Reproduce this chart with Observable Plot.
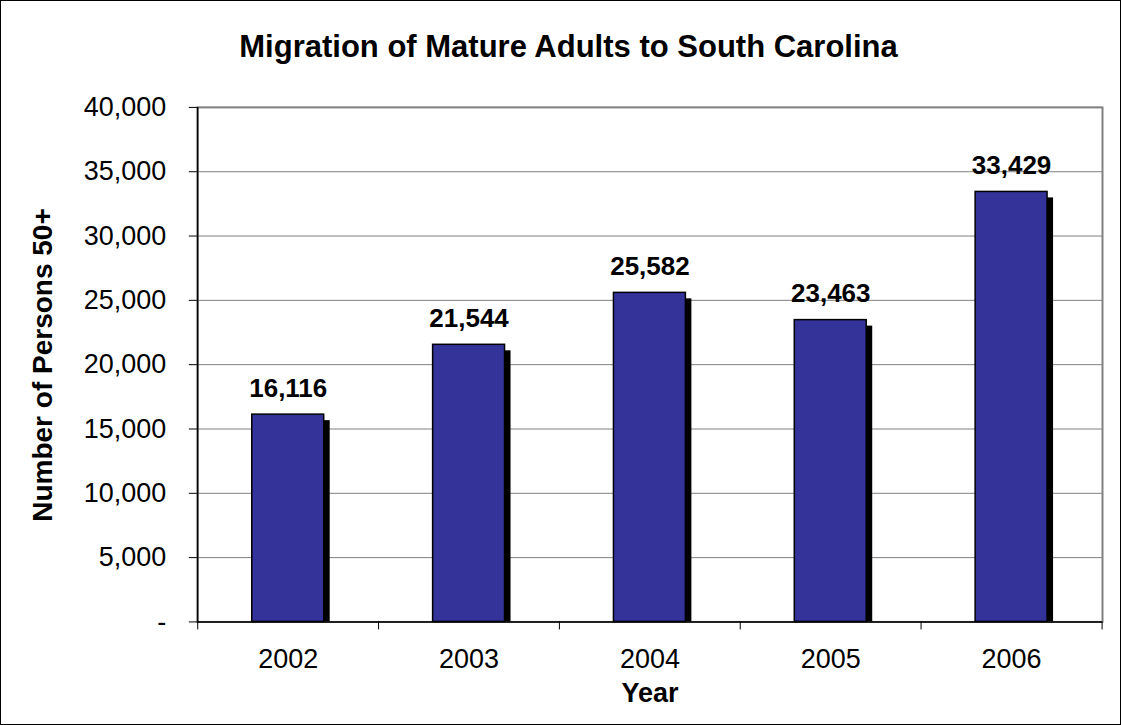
<!DOCTYPE html>
<html>
<head>
<meta charset="utf-8">
<script src="https://cdn.jsdelivr.net/npm/d3@7"></script>
<script src="https://cdn.jsdelivr.net/npm/@observablehq/plot@0.6"></script>
<style>
  html, body { margin: 0; padding: 0; background: #fff; }
  #wrap { position: relative; width: 1121px; height: 725px; box-sizing: border-box; border: 1px solid #000; overflow: hidden; }
  #title { position: absolute; left: 14px; top: 28px; width: 1107px; text-align: center;
    font-family: "Liberation Sans", Arial, sans-serif; font-weight: bold; font-size: 31px; color: #000; }
  #ylabel { position: absolute; left: 42px; top: 364px; width: 0; height: 0; }
  #ylabel span { position: absolute; left: 0; top: 0; transform: translate(-50%, -50%) rotate(-90deg);
    white-space: nowrap; font-family: "Liberation Sans", Arial, sans-serif; font-weight: bold; font-size: 28px; color: #000; }
  #chart { position: absolute; left: -1px; top: -1px; }
</style>
</head>
<body>
<div id="wrap">
  <div id="chart"></div>
  <div id="title">Migration of Mature Adults to South Carolina</div>
  <div id="ylabel"><span>Number of Persons 50+</span></div>
</div>
<script>
const years = ["2002", "2003", "2004", "2005", "2006"];
const migrants = [16116, 21544, 25582, 23463, 33429];
const yTicks = [0, 5000, 10000, 15000, 20000, 25000, 30000, 35000, 40000];
const xLabel = "Year";

const data = years.map((year, i) => ({year, value: migrants[i]}));
const fmt = d3.format(",");
const half = 906 / 5 / 2;

const chart = Plot.plot({
  width: 1121,
  height: 725,
  marginLeft: 197,
  marginRight: 18,
  marginTop: 107,
  marginBottom: 103,
  style: {fontFamily: "'Liberation Sans', Arial, sans-serif", fontSize: "27px", background: "transparent", color: "#000"},
  x: {domain: years, paddingInner: 0.6, paddingOuter: 0.3, label: null},
  y: {domain: [0, 40000], label: null},
  marks: [
    Plot.gridY(yTicks, {stroke: "#808080", strokeOpacity: 1, strokeWidth: 1}),
    Plot.frame({stroke: "#808080", strokeWidth: 2}),
    Plot.barY(data, {x: "year", y: "value", fill: "#000", dx: 6, insetTop: 6}),
    Plot.barY(data, {x: "year", y: "value", fill: "#333399", stroke: "#000", strokeWidth: 1.5}),
    Plot.ruleY([0], {stroke: "#000", strokeWidth: 1.5}),
    Plot.ruleX([years[0]], {y1: 0, y2: 40000, dx: -half, stroke: "#000", strokeWidth: 1.5}),
    Plot.axisY(yTicks, {tickSize: 8, tickPadding: 23, tickFormat: d => d === 0 ? "-" : fmt(d), fontSize: 27, label: null}),
    Plot.axisX({tickSize: 0, tickPadding: 27, fontSize: 27, label: null}),
    Plot.axisX(years, {tickSize: 8, tickFormat: () => "", dx: -half, label: null}),
    Plot.axisX([years[years.length - 1]], {tickSize: 8, tickFormat: () => "", dx: half, label: null}),
    Plot.text(data, {x: "year", y: "value", text: d => fmt(d.value), dy: -18, lineAnchor: "bottom", fontWeight: "bold", fontSize: 26}),
    Plot.text([xLabel], {frameAnchor: "bottom", dy: 80, fontWeight: "bold", fontSize: 27})
  ]
});
document.getElementById("chart").appendChild(chart);
</script>
</body>
</html>
